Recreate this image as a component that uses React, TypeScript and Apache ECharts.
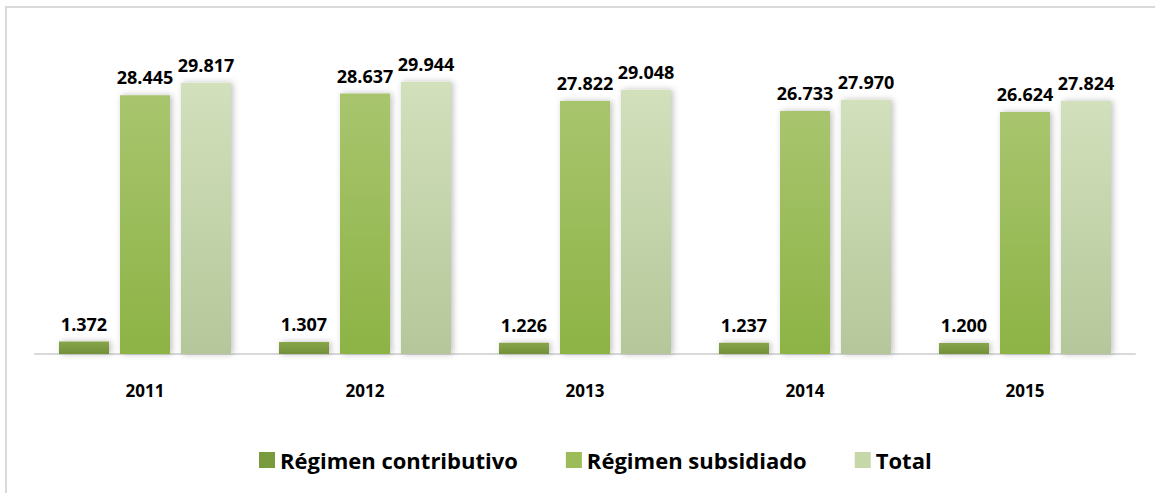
import React, { useEffect, useRef } from "react";
import * as echarts from "echarts";

const categories = ["2011", "2012", "2013", "2014", "2015"];
const contributivo = [1.372, 1.307, 1.226, 1.237, 1.2];
const subsidiado = [28.445, 28.637, 27.822, 26.733, 26.624];
const total = [29.817, 29.944, 29.048, 27.97, 27.824];
const seriesNames = ["Régimen contributivo", "Régimen subsidiado", "Total"];

const FONT = "'Open Sans', 'Liberation Sans', sans-serif";

function grad(top: string, bottom: string) {
  return new echarts.graphic.LinearGradient(0, 0, 0, 1, [
    { offset: 0, color: top },
    { offset: 1, color: bottom },
  ]);
}

export default function App() {
  const ref = useRef<HTMLDivElement>(null);
  useEffect(() => {
    if (!ref.current) return;
    const chart = echarts.init(ref.current, null, { renderer: "svg" });
    const label = {
      show: true,
      position: "top" as const,
      distance: 9,
      fontFamily: FONT,
      fontWeight: "bold" as const,
      fontSize: 18,
      color: "#000",
      formatter: (p: any) => Number(p.value).toFixed(3),
    };
    const shadow = {
      shadowBlur: 6,
      shadowColor: "rgba(0,0,0,0.25)",
      shadowOffsetX: 2,
      shadowOffsetY: 0,
    };
    const colors = [
      grad("#87a548", "#72903a"),
      grad("#a8c56e", "#8db345"),
      grad("#d2e0bb", "#b5c79a"),
    ];
    const legendColors = ["#7a9a3e", "#9bbc58", "#c6d7aa"];
    const datas = [contributivo, subsidiado, total];
    chart.setOption({
      animation: false,
      graphic: [
        {
          type: "rect",
          shape: { x: 6, y: 7, width: 1200, height: 600 },
          style: { fill: "none", stroke: "#d9d9d9", lineWidth: 2 },
          silent: true,
        },
      ],
      grid: { left: 35, right: 20, top: 63, bottom: 139 },
      legend: {
        bottom: 17,
        left: 254,
        itemWidth: 16,
        itemHeight: 16,
        itemGap: 48,
        icon: "rect",
        textStyle: {
          fontFamily: FONT,
          fontWeight: "bold",
          fontSize: 22,
          color: "#000",
        },
        data: seriesNames.map((n, i) => ({
          name: n,
          itemStyle: { color: legendColors[i], shadowBlur: 0 },
        })),
      },
      xAxis: {
        type: "category",
        data: categories,
        axisLine: { lineStyle: { color: "#d9d9d9", width: 2 } },
        axisTick: { show: false },
        axisLabel: {
          margin: 28,
          fontFamily: FONT,
          fontWeight: "bold",
          fontSize: 17,
          color: "#000",
        },
      },
      yAxis: {
        type: "value",
        min: 0,
        max: 32,
        show: false,
        splitLine: { show: false },
      },
      series: datas.map((d, i) => ({
        name: seriesNames[i],
        type: "bar",
        data: d,
        barWidth: 50,
        barGap: "22%",
        label,
        itemStyle: { color: colors[i], ...shadow },
      })),
    });
    return () => chart.dispose();
  }, []);
  return (
    <div
      ref={ref}
      style={{ position: "absolute", left: 0, top: 0, width: 1155, height: 493, background: "#fff" }}
    />
  );
}
